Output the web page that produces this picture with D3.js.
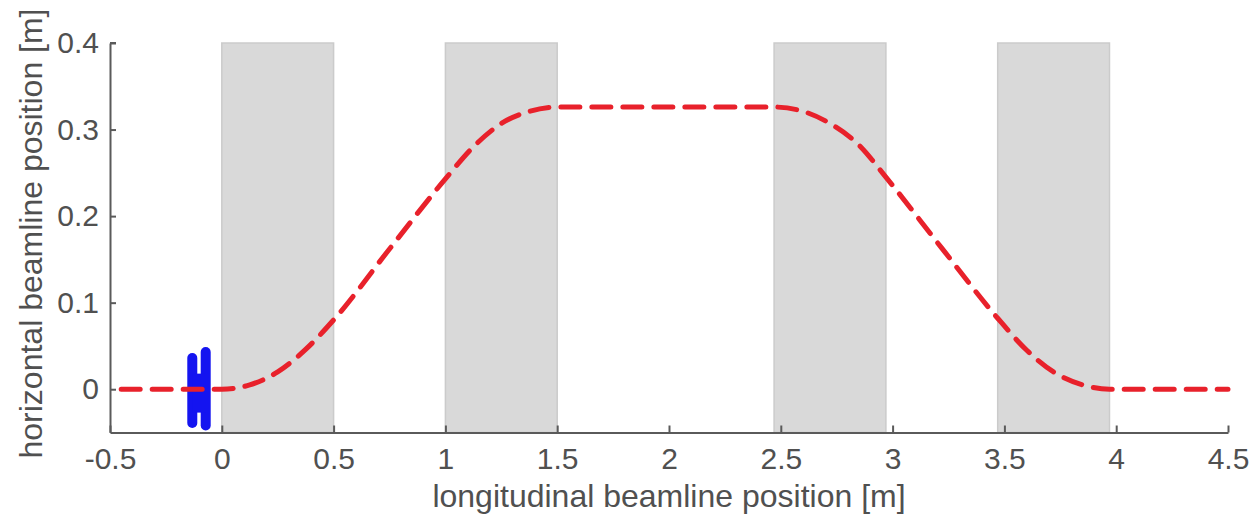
<!DOCTYPE html>
<html>
<head>
<meta charset="utf-8">
<script src="https://cdn.jsdelivr.net/npm/d3@7"></script>
<style>
  html, body { margin: 0; padding: 0; background: #fff; }
  svg { display: block; }
  text { font-family: "Liberation Sans", Arial, sans-serif; fill: #505050; }
</style>
</head>
<body>
<div id="chart"></div>
<script>
// ---- data ----
const xTicks = [-0.5, 0, 0.5, 1, 1.5, 2, 2.5, 3, 3.5, 4, 4.5];
const yTicks = [0, 0.1, 0.2, 0.3, 0.4];
const xTickLabels = ["-0.5", "0", "0.5", "1", "1.5", "2", "2.5", "3", "3.5", "4", "4.5"];
const yTickLabels = ["0", "0.1", "0.2", "0.3", "0.4"];

// magnet regions (grey bands), start / end in metres
const magnetStart = [0.0, 1.0, 2.47, 3.47];
const magnetEnd   = [0.5, 1.5, 2.97, 3.97];

// beam trajectory (red dashed)
const trajX = [-0.45, 0.0, 0.125, 0.25, 0.375, 0.5, 0.75, 1.0, 1.125, 1.25, 1.375, 1.5, 2.0, 2.47, 2.6, 2.72, 2.85, 2.97, 3.22, 3.47, 3.6, 3.72, 3.85, 3.97, 4.5];
const trajY = [0, 0, 0.005, 0.02, 0.046, 0.08, 0.162, 0.243, 0.28, 0.307, 0.321, 0.326, 0.326, 0.326, 0.321, 0.307, 0.282, 0.245, 0.163, 0.082, 0.045, 0.02, 0.005, 0, 0];

// source symbol (blue): two plates and a connecting block
const plateX    = [-0.132, -0.072];
const plateYlo  = [-0.039, -0.042];
const plateYhi  = [0.036, 0.043];
const blockX    = [-0.132, -0.072];
const blockY    = [-0.027, 0.018];

const xLabel = "longitudinal beamline position [m]";
const yLabel = "horizontal beamline position [m]";

// ---- layout ----
const W = 1254, H = 522;
const X0 = 110, X1 = 1228, Y0 = 432.5, Y1 = 43;

const svg = d3.select("#chart").append("svg").attr("width", W).attr("height", H);

const x = d3.scaleLinear().domain([-0.5, 4.5]).range([X0, X1]);
const y = d3.scaleLinear().domain([-0.05, 0.4]).range([Y0, Y1]);

// grey magnet bands
svg.append("g").selectAll("rect")
  .data(magnetStart.map((s, i) => ({ s, e: magnetEnd[i] })))
  .join("rect")
  .attr("x", d => x(d.s))
  .attr("width", d => x(d.e) - x(d.s))
  .attr("y", y(0.4))
  .attr("height", y(-0.05) - y(0.4))
  .attr("fill", "#d9d9d9")
  .attr("stroke", "#cbcbcb")
  .attr("stroke-width", 1.5);

// axes
const tfs = 30, lfs = 32;
const xAxis = d3.axisBottom(x).tickValues(xTicks)
  .tickFormat((d, i) => xTickLabels[i]).tickSizeInner(-7).tickSizeOuter(0).tickPadding(15);
const yAxis = d3.axisLeft(y).tickValues(yTicks)
  .tickFormat((d, i) => yTickLabels[i]).tickSizeInner(-6).tickSizeOuter(0).tickPadding(11);

const gx = svg.append("g").attr("transform", `translate(0,${Y0})`).call(xAxis);
const gy = svg.append("g").attr("transform", `translate(${X0},0)`).call(yAxis);
[gx, gy].forEach(g => {
  g.select(".domain").attr("stroke", "#5a5a5a").attr("stroke-width", 2);
  g.selectAll(".tick line").attr("stroke", "#5a5a5a").attr("stroke-width", 2);
  g.selectAll(".tick text").attr("font-size", tfs).attr("fill", "#505050")
    .attr("font-family", "Liberation Sans, Arial, sans-serif");
});
svg.append("line").attr("x1", X0).attr("x2", X0 + 6).attr("y1", y(0.4)).attr("y2", y(0.4))
  .attr("stroke", "#5a5a5a").attr("stroke-width", 2);

// blue source symbol
const blue = "#1414f0";
svg.append("g").selectAll("line")
  .data(plateX.map((px, i) => ({ px, lo: plateYlo[i], hi: plateYhi[i] })))
  .join("line")
  .attr("x1", d => x(d.px)).attr("x2", d => x(d.px))
  .attr("y1", d => y(d.hi)).attr("y2", d => y(d.lo))
  .attr("stroke", blue).attr("stroke-width", 10).attr("stroke-linecap", "round");
svg.append("rect")
  .attr("x", x(blockX[0])).attr("width", x(blockX[1]) - x(blockX[0]))
  .attr("y", y(blockY[1])).attr("height", y(blockY[0]) - y(blockY[1]))
  .attr("fill", blue);

// red trajectory
const line = d3.line().x(d => x(d[0])).y(d => y(d[1])).curve(d3.curveMonotoneX);
svg.append("path")
  .datum(trajX.map((v, i) => [v, trajY[i]]))
  .attr("d", line)
  .attr("fill", "none")
  .attr("stroke", "#e8212b")
  .attr("stroke-width", 5)
  .attr("stroke-dasharray", "19,12")
  .attr("stroke-linecap", "round");

// axis titles
svg.append("text")
  .attr("x", (X0 + X1) / 2).attr("y", 507)
  .attr("text-anchor", "middle").attr("font-size", lfs)
  .text(xLabel);
svg.append("text")
  .attr("transform", `translate(42,233.5) rotate(-90)`)
  .attr("text-anchor", "middle").attr("font-size", lfs)
  .text(yLabel);
</script>
</body>
</html>
